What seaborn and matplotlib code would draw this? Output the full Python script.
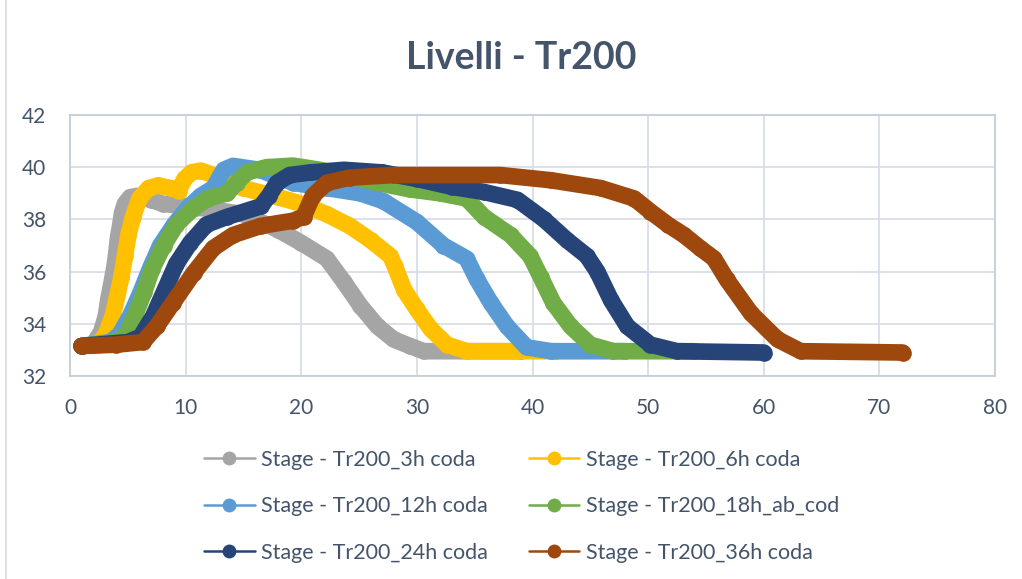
import pandas as pd
import matplotlib.pyplot as plt
import seaborn as sns
from matplotlib.lines import Line2D

# Livelli (stage) per scenario: ore / quota
labels = ["Stage - Tr200_3h coda", "Stage - Tr200_6h coda",
          "Stage - Tr200_12h coda", "Stage - Tr200_18h_ab_cod",
          "Stage - Tr200_24h coda", "Stage - Tr200_36h coda"]
colors = ["#A5A5A5", "#FFC000", "#5B9BD5", "#70AD47", "#264478", "#9E480E"]

t_3h = [1, 2.0, 2.7, 3.1, 3.3, 3.6, 3.85, 4.0, 4.15, 4.35, 4.5, 4.75, 5.2, 5.8,
        7, 8, 10, 12, 15, 18, 20, 22.2, 23.7, 25.1, 26.6, 28, 29.4, 30.6, 39]
h_3h = [33.15, 33.2, 33.7, 34.3, 34.9, 35.6, 36.2, 36.7, 37.3, 37.8, 38.25, 38.6, 38.85, 38.9,
        38.75, 38.6, 38.5, 38.4, 38.2, 37.6, 37.1, 36.5, 35.6, 34.7, 33.9, 33.4, 33.15, 32.95, 32.95]

t_6h = [1, 2.4, 3.1, 3.7, 4.1, 4.45, 4.75, 5.05, 5.45, 6.0, 6.8, 7.6, 8.7, 9.4, 9.9, 10.5,
        11.3, 12.4, 15, 18, 20, 22.2, 24.2, 26, 27.7, 28.1, 28.9, 30, 31.2, 32.6, 34.3, 42]
h_6h = [33.15, 33.2, 33.6, 34.3, 35.1, 35.8, 36.6, 37.4, 38.1, 38.8, 39.2, 39.3, 39.2, 39.1, 39.55, 39.8,
        39.87, 39.7, 39.2, 38.85, 38.6, 38.2, 37.75, 37.2, 36.6, 36.2, 35.3, 34.55, 33.8, 33.2, 32.95, 32.95]

t_12h = [1, 3.5, 4.3, 5.2, 6.1, 6.9, 7.8, 9.0, 10.1, 11.3, 12.4, 13.3, 14.1, 16.4, 19.3, 22.2,
         25.1, 27.1, 30, 32.3, 34.3, 35.2, 36.4, 37.8, 39.5, 41.6, 48]
h_12h = [33.15, 33.3, 33.6, 34.3, 35.2, 36.1, 37.0, 37.8, 38.4, 38.9, 39.2, 39.9, 40.05, 39.9, 39.4, 39.2,
         39.0, 38.7, 37.9, 37.0, 36.5, 35.7, 34.8, 33.9, 33.1, 32.95, 32.95]

t_18h = [1, 4.0, 4.9, 5.6, 6.4, 7.1, 8.1, 9.2, 10.6, 11.9, 13.6, 14.4, 15.3, 17, 19.3, 21.6,
         23.7, 26.6, 29.4, 32, 34.3, 35.8, 38.1, 39.8, 40.7, 41.8, 43.3, 45, 47, 54]
h_18h = [33.15, 33.3, 33.6, 34.3, 35.2, 36.1, 37.0, 37.8, 38.4, 38.8, 39.0, 39.4, 39.8, 40.0, 40.06, 39.9,
         39.7, 39.4, 39.15, 39.0, 38.8, 38.1, 37.4, 36.6, 35.8, 34.8, 33.9, 33.2, 32.95, 32.95]

t_24h = [1, 5.0, 6.1, 7.2, 8.1, 9.2, 10.4, 11.8, 13.6, 16.5, 17.2, 17.9, 19, 20.8, 23.7, 27,
         30, 33, 35.8, 38.7, 41, 43, 44.7, 45.6, 46.8, 48.2, 50.2, 52.5, 60]
h_24h = [33.15, 33.3, 33.5, 34.3, 35.2, 36.3, 37.1, 37.8, 38.1, 38.5, 38.9, 39.4, 39.7, 39.8, 39.9, 39.8,
         39.55, 39.25, 39.05, 38.75, 38.0, 37.2, 36.6, 36.0, 34.9, 33.9, 33.2, 32.95, 32.9]

t_36h = [1, 4, 6.3, 7.5, 8.9, 10.7, 12.4, 14.1, 16.5, 19.3, 20.2, 21, 22.2, 24.2, 28, 37.2,
         41.6, 45.9, 48.8, 50.2, 51.7, 53.1, 54.5, 55.7, 56.8, 58.9, 61.2, 63.2, 72]
h_36h = [33.15, 33.2, 33.3, 33.9, 34.8, 35.95, 36.9, 37.4, 37.75, 37.95, 38.1, 38.9, 39.4, 39.6, 39.7, 39.7,
         39.5, 39.2, 38.8, 38.3, 37.8, 37.4, 36.9, 36.5, 35.7, 34.4, 33.4, 32.95, 32.9]

series = [(t_3h, h_3h), (t_6h, h_6h), (t_12h, h_12h),
          (t_18h, h_18h), (t_24h, h_24h), (t_36h, h_36h)]

frames = []
for name, (t, h) in zip(labels, series):
    frames.append(pd.DataFrame({"ore": t, "livello": h, "serie": name}))
df = pd.concat(frames, ignore_index=True)

text_col = "#44546A"
grid_col = "#D9DEE7"

sns.set_style("white")
plt.rcParams["font.family"] = ["Lato", "DejaVu Sans"]

fig = plt.figure(figsize=(10.22, 5.79), dpi=100)
ax = fig.add_axes([70 / 1022, 1 - 376 / 579, 925 / 1022, 261 / 579])

sns.lineplot(data=df, x="ore", y="livello", hue="serie", hue_order=labels,
             palette=colors, estimator=None, sort=False, legend=False, ax=ax,
             linewidth=12, solid_capstyle="round", solid_joinstyle="round",
             marker="o", markersize=12, markeredgewidth=0)

ax.set_xlim(0, 80)
ax.set_ylim(32, 42)
ax.set_xticks(range(0, 81, 10))
ax.set_yticks(range(32, 43, 2))
ax.set_xlabel("")
ax.set_ylabel("")
ax.grid(True, color=grid_col, linewidth=1.3)
ax.set_axisbelow(True)
for s in ax.spines.values():
    s.set_color("#C5CEDB")
    s.set_linewidth(1.3)
ax.tick_params(axis="x", length=0, pad=16, labelsize=15, labelcolor=text_col)
ax.tick_params(axis="y", length=0, pad=17, labelsize=15, labelcolor=text_col)

fig.text(521 / 1022, 1 - 58 / 579, "Livelli - Tr200", ha="center", va="center",
         fontsize=27, fontweight="bold", color=text_col)

# bordo sinistro dell'area del grafico
fig.add_artist(Line2D([5.5 / 1022, 5.5 / 1022], [0, 1], color="#D9D9D9", linewidth=1.2))

# legenda a righe: matplotlib riempie per colonne, quindi riordino
order = [0, 2, 4, 1, 3, 5]
handles = [Line2D([0], [0], color=colors[i], linewidth=1.8, marker="o", markersize=10,
                  markeredgewidth=0) for i in order]
fig.legend(handles, [labels[i] for i in order], ncol=2, loc="upper left",
           bbox_to_anchor=(204 / 1022, 1 - 450 / 579), frameon=False,
           fontsize=15.5, labelcolor=text_col, handlelength=2.35, handletextpad=0.3,
           columnspacing=1.9, labelspacing=1.22, borderpad=0, borderaxespad=0)

fig.savefig("out.png", dpi=100)
